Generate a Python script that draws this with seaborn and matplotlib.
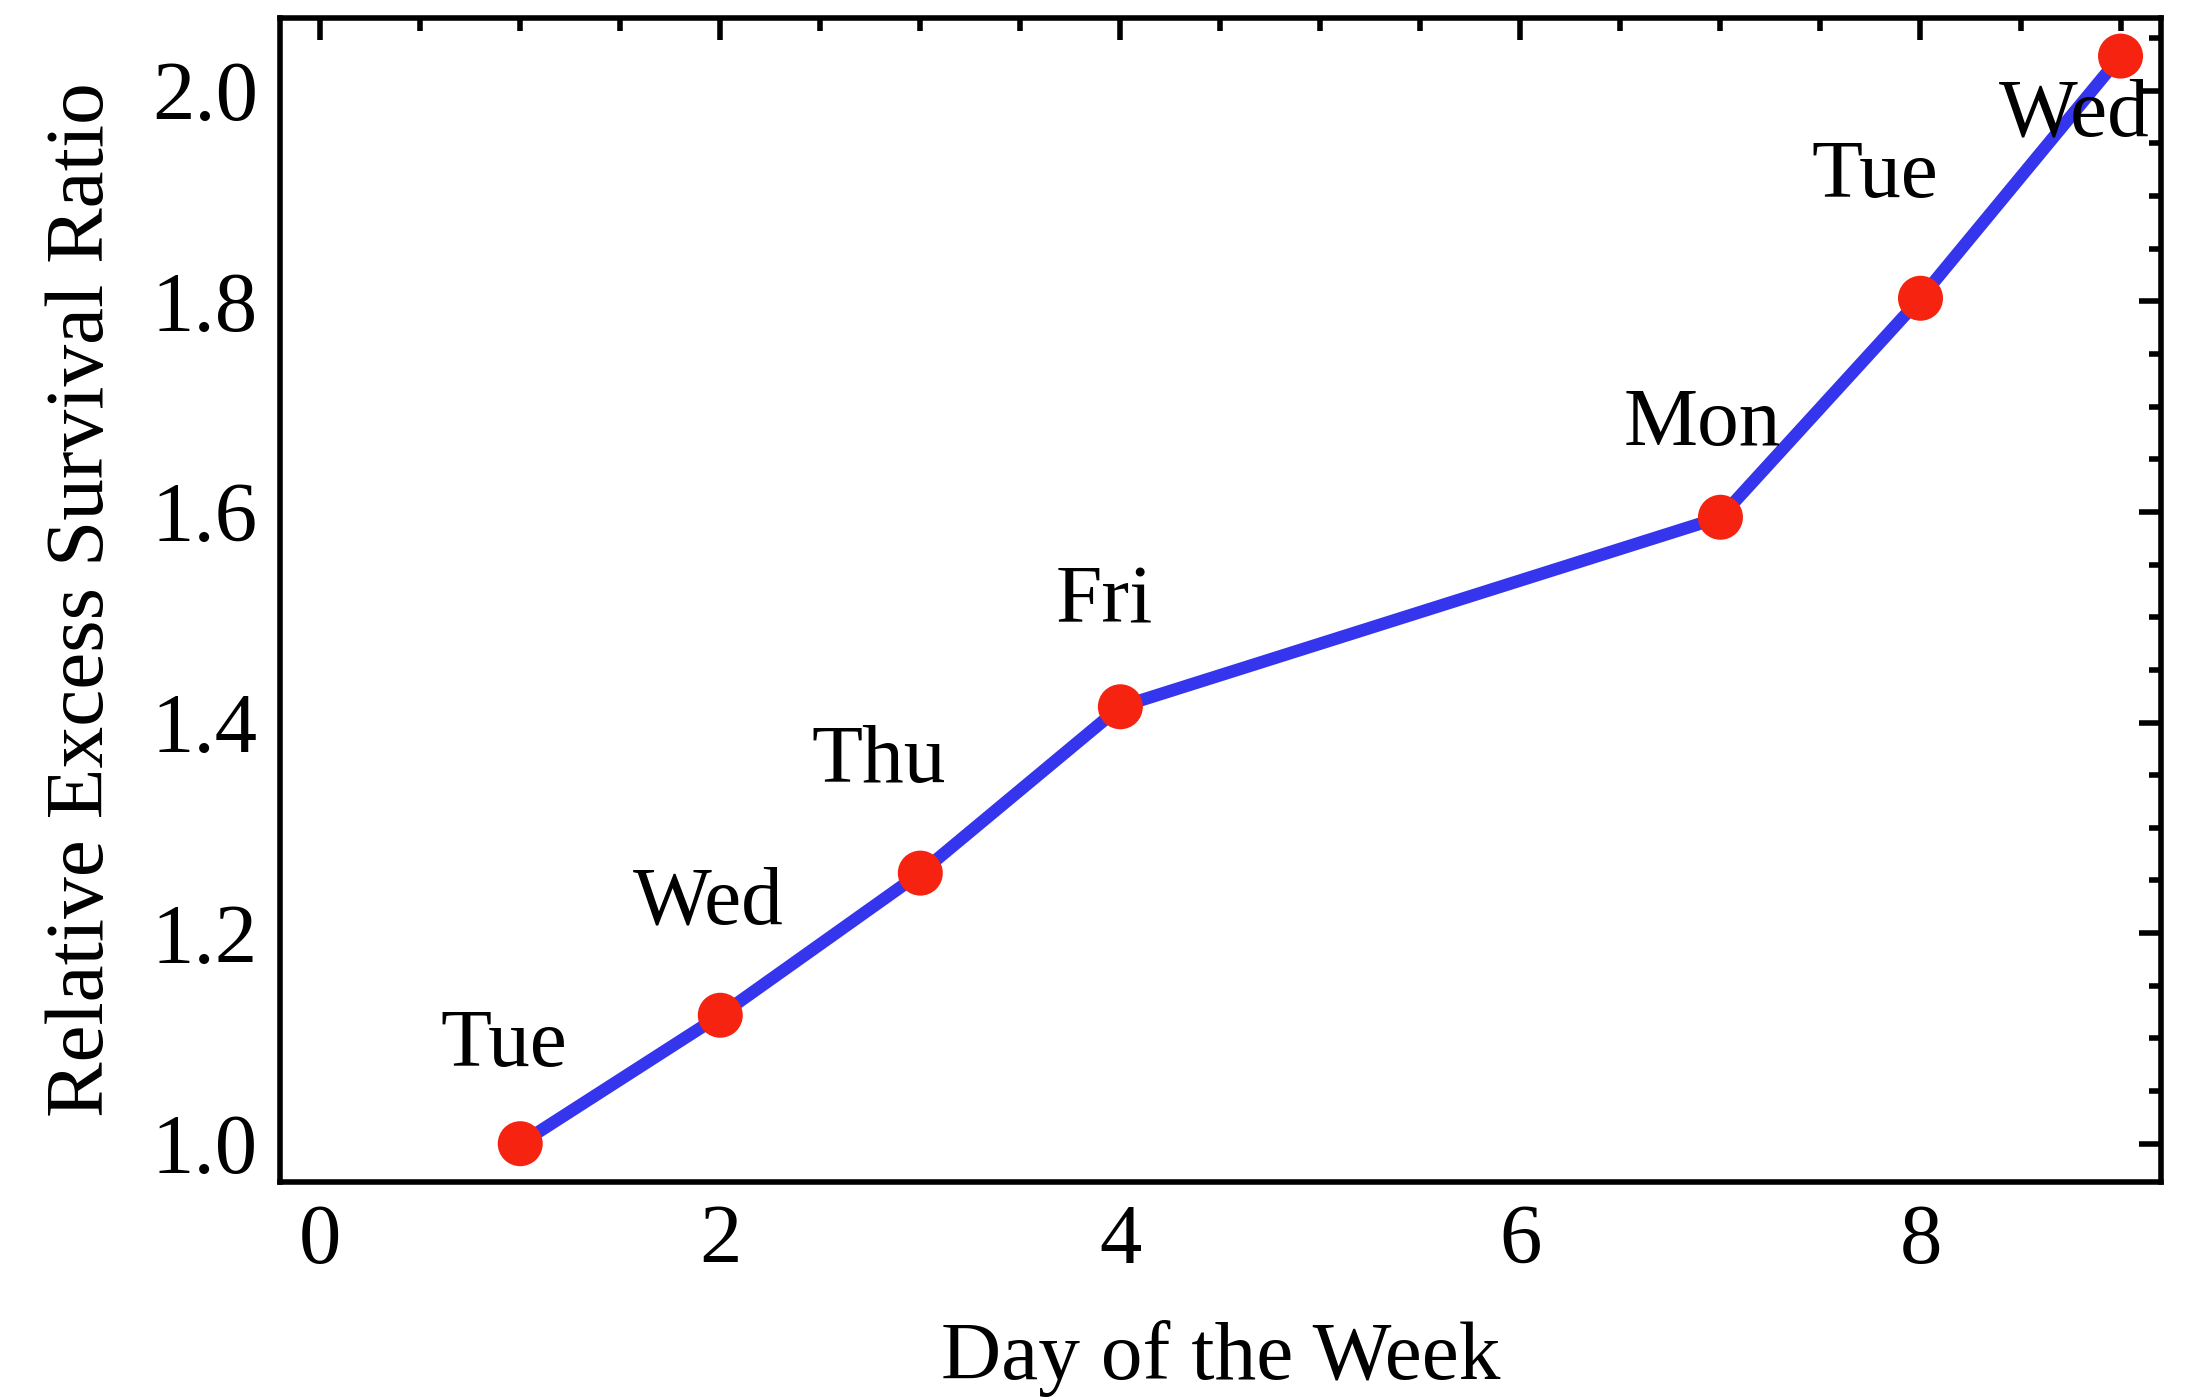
import pandas as pd
import seaborn as sns
import numpy as np
import matplotlib.pyplot as plt
from matplotlib.ticker import MultipleLocator

# values
day = [1, 2, 3, 4, 7, 8, 9]
ratio = [1.0, 1.122, 1.257, 1.415, 1.595, 1.803, 2.033]
day_names = ["Tue", "Wed", "Thu", "Fri", "Mon", "Tue", "Wed"]
label_x = [0.92, 1.94, 2.79, 3.92, 6.91, 7.77, 8.77]
label_y = [1.093, 1.228, 1.362, 1.514, 1.682, 1.918, 1.976]

df = pd.DataFrame({"day": day, "ratio": ratio})

sns.set_style("white")
plt.rcParams['font.family'] = ['Liberation Serif', 'DejaVu Serif']
plt.rcParams['axes.labelcolor'] = 'black'
plt.rcParams['text.color'] = 'black'

fig, ax = plt.subplots(figsize=(21.89, 14), dpi=100)
fig.subplots_adjust(left=0.128, right=0.987, top=0.987, bottom=0.156)

sns.lineplot(x='day', y='ratio', data=df, color='#3535ee', linewidth=9, ax=ax, zorder=2)
sns.scatterplot(x='day', y='ratio', data=df, color='#f5230f', s=1050, edgecolor='none', ax=ax, zorder=3)

for name, lx, ly in zip(day_names, label_x, label_y):
    ax.text(lx, ly, name, fontsize=60, ha='center', va='center', color='black', zorder=4)

ax.set_xlim(-0.2, 9.2)
ax.set_ylim(0.964, 2.069)
ax.xaxis.set_major_locator(MultipleLocator(2))
ax.xaxis.set_minor_locator(MultipleLocator(0.5))
ax.yaxis.set_major_locator(MultipleLocator(0.2))
ax.yaxis.set_minor_locator(MultipleLocator(0.05))
ax.yaxis.set_major_formatter(plt.FormatStrFormatter('%.1f'))

ax.tick_params(which='both', direction='in', top=True, right=True, width=4, labelsize=61, colors='black')
ax.tick_params(which='major', length=16, pad=16)
ax.tick_params(which='minor', length=9)
for s in ax.spines.values():
    s.set_linewidth(4)
    s.set_color('black')

ax.set_xlabel("Day of the Week", fontsize=60, labelpad=28)
ax.set_ylabel("Relative Excess Survival Ratio", fontsize=60, labelpad=22)

plt.savefig("out.png", dpi=100)
